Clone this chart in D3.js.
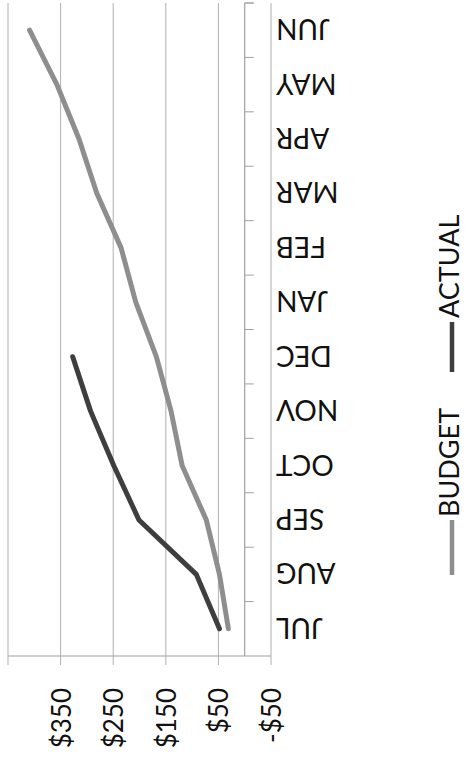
<!DOCTYPE html>
<html><head><meta charset="utf-8">
<script src="https://cdn.jsdelivr.net/npm/d3@7"></script>
<style>body{margin:0;background:#fff}svg{display:block}text{font-family:Lato,"Open Sans",sans-serif;fill:#111}</style>
</head><body>
<script>
const months = ["JUL","AUG","SEP","OCT","NOV","DEC","JAN","FEB","MAR","APR","MAY","JUN"];
const budget = [31, 48, 73, 119, 140, 168, 207, 235, 281, 315, 357, 409];
const actual = [48, 92, 201, 249, 293, 327];
const valueTicks = [-50, 50, 150, 250, 350, 450];
const tickLabels = ["-$50", "$50", "$150", "$250", "$350", ""];
const seriesNames = ["BUDGET", "ACTUAL"];
const seriesColors = ["#8e8e8e", "#3e3e3e"];

const W = 466, H = 760;
const svg = d3.select("body").append("svg").attr("width", W).attr("height", H);

// chart is drawn rotated: values run right-to-left, months bottom-to-top
const x = d3.scaleLinear().domain([-50, 450]).range([271, 8]);
const y = d3.scaleBand().domain(months).range([656, 3]).padding(0);
const yc = m => y(m) + y.bandwidth() / 2;

// value gridlines with small ticks past the base line
svg.append("g").selectAll("line").data(valueTicks).join("line")
  .attr("x1", d => x(d)).attr("x2", d => x(d))
  .attr("y1", 3).attr("y2", 665)
  .attr("stroke", "#b0b0b0").attr("stroke-width", 1);

// base line (value axis)
svg.append("line").attr("x1", x(450)).attr("x2", x(-50)).attr("y1", 656).attr("y2", 656)
  .attr("stroke", "#a0a0a0").attr("stroke-width", 1.2);

// category axis at zero
svg.append("line").attr("x1", x(0)).attr("x2", x(0)).attr("y1", 3).attr("y2", 656)
  .attr("stroke", "#a0a0a0").attr("stroke-width", 1.2);
const bounds = months.map(m => y(m)).concat([y.range()[1]]);
svg.append("g").selectAll("line").data(bounds).join("line")
  .attr("x1", x(0)).attr("x2", x(0) + 9)
  .attr("y1", d => d).attr("y2", d => d)
  .attr("stroke", "#a0a0a0").attr("stroke-width", 1);

// value labels
svg.append("g").selectAll("text").data(valueTicks).join("text")
  .attr("transform", d => `translate(${x(d)},688) rotate(-90)`)
  .attr("text-anchor", "end").attr("dominant-baseline", "central")
  .attr("font-size", 26)
  .text((d, i) => tickLabels[i]);

// month labels (upside down)
svg.append("g").selectAll("text").data(months).join("text")
  .attr("transform", d => `translate(276,${yc(d)}) rotate(180)`)
  .attr("text-anchor", "end").attr("dominant-baseline", "central")
  .attr("font-size", 28)
  .text(d => d);

// lines
const line = d3.line().x(d => x(d.v)).y(d => yc(d.m));
[budget, actual].forEach((s, i) => {
  svg.append("path")
    .datum(s.map((v, j) => ({ m: months[j], v })))
    .attr("d", line)
    .attr("fill", "none")
    .attr("stroke", seriesColors[i])
    .attr("stroke-width", 5)
    .attr("stroke-linecap", "round")
    .attr("stroke-linejoin", "round");
});

// legend
const legendPos = [{ y0: 575, y1: 520, ty: 517 }, { y0: 372, y1: 322, ty: 318 }];
seriesNames.forEach((n, i) => {
  const p = legendPos[i];
  svg.append("line").attr("x1", 452).attr("x2", 452).attr("y1", p.y0).attr("y2", p.y1)
    .attr("stroke", seriesColors[i]).attr("stroke-width", 4.5);
  svg.append("text").attr("transform", `translate(459,${p.ty}) rotate(-90)`)
    .attr("font-size", 27).text(n);
});
</script>
</body></html>
